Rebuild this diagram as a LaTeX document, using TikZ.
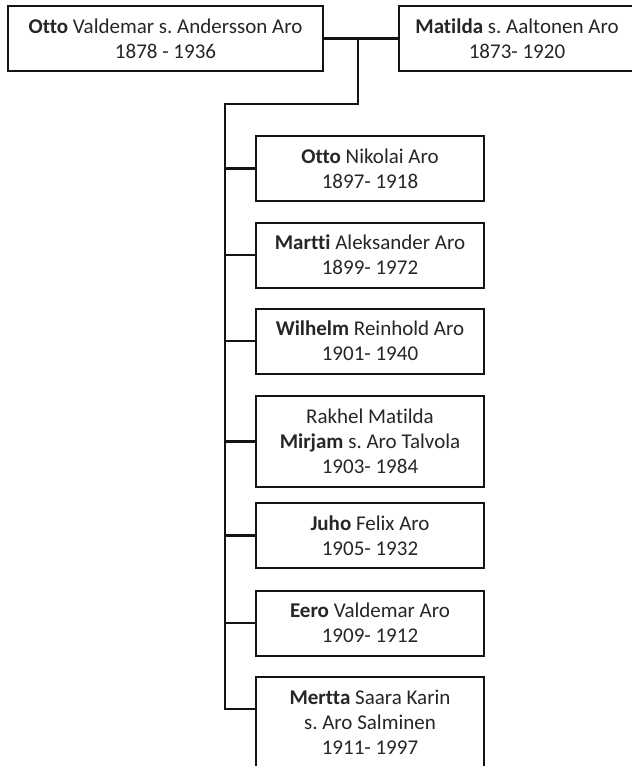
\documentclass[tikz,border=0pt]{standalone}
\usepackage{fontspec}
\setmainfont{Carlito}[Ligatures=NoCommon]
\definecolor{txt}{RGB}{38,38,38}
\definecolor{ln}{RGB}{20,20,20}
\begin{document}
\frenchspacing
\begin{tikzpicture}[x=1pt,y=-1pt,
  box/.style={draw=ln,line width=2pt,fill=white,align=center,text=txt,
    font=\fontsize{21}{25}\selectfont,inner sep=0pt},
  kid/.style={box,minimum width=228pt,minimum height=65pt},
  kid3/.style={box,minimum width=228pt,minimum height=91pt},
  conn/.style={draw=ln,line width=2.8pt}]
\useasboundingbox (0,0) rectangle (632,766);
\clip (0,0) rectangle (632,766);
\node[box,minimum width=315pt,minimum height=65pt] (father) at (165.5,38.5)
  {\textbf{Otto} Valdemar s. Andersson Aro\\1878 - 1936};
\node[box,minimum width=236pt,minimum height=65pt] (mother) at (517,38.5)
  {\textbf{Matilda} s. Aaltonen Aro\\1873- 1920};
\node[kid] (c1) at (370,168.5) {\textbf{Otto} Nikolai Aro\\1897- 1918};
\node[kid] (c2) at (370,255) {\textbf{Martti} Aleksander Aro\\1899- 1972};
\node[kid] (c3) at (370,341) {\textbf{Wilhelm} Reinhold Aro\\1901- 1940};
\node[kid3] (c4) at (370,441.5) {Rakhel Matilda\\\textbf{Mirjam} s. Aro Talvola\\1903- 1984};
\node[kid] (c5) at (370,535.5) {\textbf{Juho} Felix Aro\\1905- 1932};
\node[kid] (c6) at (370,623) {\textbf{Eero} Valdemar Aro\\1909- 1912};
\node[kid3] (c7) at (370,722.5) {\textbf{Mertta} Saara Karin\\s. Aro Salminen\\1911- 1997};
\coordinate (junc) at (358,38.5);
\coordinate (bend) at (358,104);
\coordinate (spinetop) at (225,104);
\coordinate (spinebot) at (225,709);
\draw[conn] (father.east) -- (mother.west);
\draw[conn,line join=miter] (junc) -- (bend) -- (spinetop) -- (spinebot) -- (spinebot -| c7.west);
\foreach \c in {c1,c2,c3,c4,c5,c6}
  \draw[conn] (spinetop |- \c.west) -- (\c.west);
\end{tikzpicture}
\end{document}
